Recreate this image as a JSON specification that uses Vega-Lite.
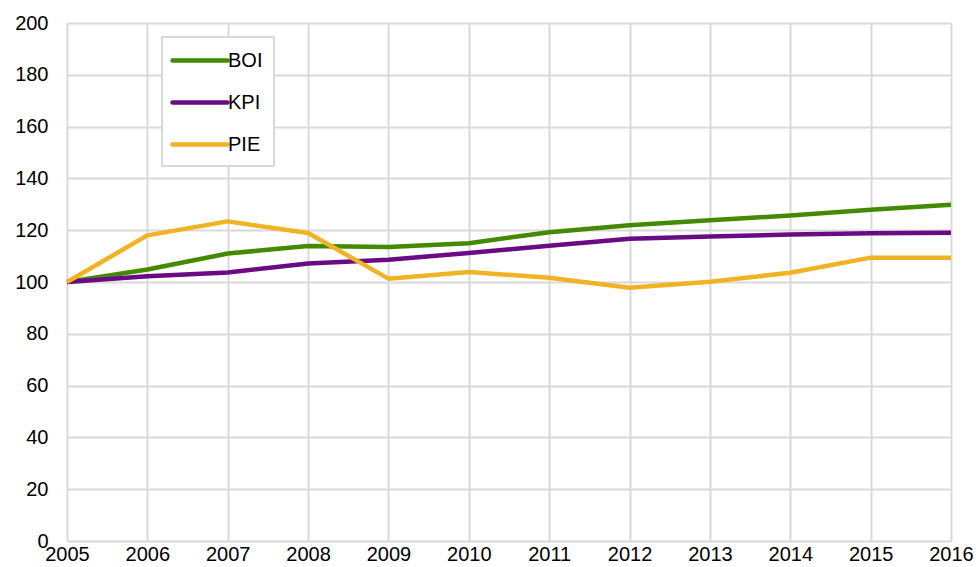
{
  "$schema": "https://vega.github.io/schema/vega-lite/v6.json",
  "width": 884,
  "height": 518,
  "autosize": {"type": "none"},
  "padding": {"left": 67, "top": 23, "right": 25, "bottom": 26},
  "background": "white",
  "config": {
    "view": {"stroke": null},
    "font": "Liberation Sans",
    "axis": {"grid": true, "gridColor": "#d9d9d9", "gridWidth": 2, "domain": false, "ticks": false, "labelFont": "Liberation Sans", "labelFontSize": 20, "labelColor": "#000000", "title": null}
  },
  "data": {
    "values": [
      {"year": 2005, "series": "BOI", "value": 100},
      {"year": 2006, "series": "BOI", "value": 104.8},
      {"year": 2007, "series": "BOI", "value": 111},
      {"year": 2008, "series": "BOI", "value": 113.9},
      {"year": 2009, "series": "BOI", "value": 113.5},
      {"year": 2010, "series": "BOI", "value": 115},
      {"year": 2011, "series": "BOI", "value": 119.2},
      {"year": 2012, "series": "BOI", "value": 121.9},
      {"year": 2013, "series": "BOI", "value": 123.8},
      {"year": 2014, "series": "BOI", "value": 125.7},
      {"year": 2015, "series": "BOI", "value": 127.9},
      {"year": 2016, "series": "BOI", "value": 129.8},
      {"year": 2005, "series": "KPI", "value": 100},
      {"year": 2006, "series": "KPI", "value": 102.2},
      {"year": 2007, "series": "KPI", "value": 103.7},
      {"year": 2008, "series": "KPI", "value": 107.1},
      {"year": 2009, "series": "KPI", "value": 108.6},
      {"year": 2010, "series": "KPI", "value": 111.2},
      {"year": 2011, "series": "KPI", "value": 114},
      {"year": 2012, "series": "KPI", "value": 116.7},
      {"year": 2013, "series": "KPI", "value": 117.6},
      {"year": 2014, "series": "KPI", "value": 118.3},
      {"year": 2015, "series": "KPI", "value": 118.8},
      {"year": 2016, "series": "KPI", "value": 119},
      {"year": 2005, "series": "PIE", "value": 100},
      {"year": 2006, "series": "PIE", "value": 118},
      {"year": 2007, "series": "PIE", "value": 123.4},
      {"year": 2008, "series": "PIE", "value": 118.9},
      {"year": 2009, "series": "PIE", "value": 101.3},
      {"year": 2010, "series": "PIE", "value": 103.9},
      {"year": 2011, "series": "PIE", "value": 101.6},
      {"year": 2012, "series": "PIE", "value": 97.8},
      {"year": 2013, "series": "PIE", "value": 100.1},
      {"year": 2014, "series": "PIE", "value": 103.6},
      {"year": 2015, "series": "PIE", "value": 109.4},
      {"year": 2016, "series": "PIE", "value": 109.4}
    ]
  },
  "mark": {"type": "line", "strokeWidth": 4.5, "strokeCap": "butt", "strokeJoin": "round"},
  "encoding": {
    "x": {
      "field": "year", "type": "quantitative",
      "scale": {"domain": [2005, 2016], "nice": false, "zero": false},
      "axis": {"values": [2005, 2006, 2007, 2008, 2009, 2010, 2011, 2012, 2013, 2014, 2015, 2016], "format": "d", "labelPadding": 3, "labelFlush": false, "labelOverlap": false}
    },
    "y": {
      "field": "value", "type": "quantitative",
      "scale": {"domain": [0, 200], "nice": false},
      "axis": {"values": [0, 20, 40, 60, 80, 100, 120, 140, 160, 180, 200], "labelPadding": 19}
    },
    "color": {
      "field": "series", "type": "nominal",
      "scale": {"domain": ["BOI", "KPI", "PIE"], "range": ["#448a00", "#6a0a84", "#f0b323"]},
      "legend": {
        "title": null,
        "orient": "none",
        "legendX": 95,
        "legendY": 14,
        "direction": "vertical",
        "padding": 11,
        "fillColor": "white",
        "strokeColor": "#d9d9d9",
        "symbolType": "M-1.3,0H4.2",
        "symbolSize": 400,
        "symbolStrokeWidth": 4.5,
        "labelFontSize": 20,
        "labelFont": "Liberation Sans",
        "labelColor": "#000000",
        "labelOffset": 30,
        "rowPadding": 19,
        "encode": {"symbols": {"update": {"strokeCap": {"value": "round"}}}, "legend": {"update": {"strokeWidth": {"value": 2}}}}
      }
    }
  }
}
